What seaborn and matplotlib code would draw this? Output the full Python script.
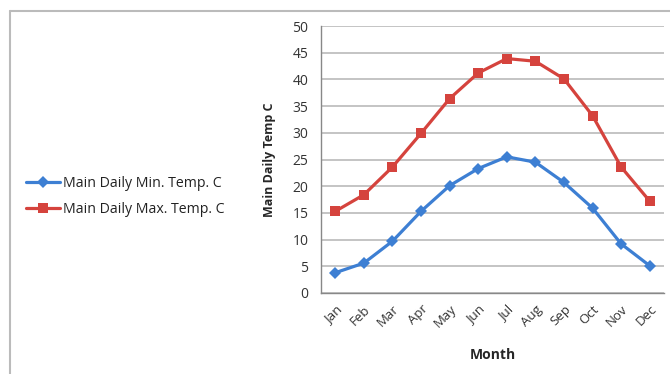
import matplotlib
matplotlib.use("Agg")
import matplotlib.pyplot as plt
import seaborn as sns
import pandas as pd
import numpy as np
from matplotlib.lines import Line2D

months = ["Jan", "Feb", "Mar", "Apr", "May", "Jun", "Jul", "Aug", "Sep", "Oct", "Nov", "Dec"]
min_temp = [3.8, 5.6, 9.7, 15.3, 20.1, 23.3, 25.5, 24.5, 20.7, 15.9, 9.2, 5.1]
max_temp = [15.3, 18.4, 23.6, 29.9, 36.4, 41.2, 43.9, 43.4, 40.1, 33.2, 23.6, 17.2]
series_names = ["Main Daily Min. Temp. C", "Main Daily Max. Temp. C"]
y_ticks = [0, 5, 10, 15, 20, 25, 30, 35, 40, 45, 50]

sns.set_style("white")
plt.rcParams["font.family"] = ["Open Sans", "DejaVu Sans"]

df = pd.DataFrame({
    "idx": list(range(len(months))) * 2,
    "temp": min_temp + max_temp,
    "series": [series_names[0]] * len(months) + [series_names[1]] * len(months),
})

fig = plt.figure(figsize=(6.7, 3.74), dpi=100)
ax = fig.add_axes([321 / 670, 81 / 374, 343 / 670, 267 / 374])

blue = "#3D7FD3"
red = "#D5433D"
palette = {series_names[0]: blue, series_names[1]: red}
markers = {series_names[0]: "D", series_names[1]: "s"}

sns.lineplot(data=df, x="idx", y="temp", hue="series", style="series",
             palette=palette, markers=markers, dashes=False, linewidth=2.3,
             markersize=7.5, markeredgewidth=0, ax=ax, legend=False, zorder=3)
# diamonds slightly smaller than squares
for ln in ax.lines:
    if ln.get_marker() == "D":
        ln.set_markersize(6)

ax.set_xlim(-0.5, len(months) - 0.5)
ax.set_ylim(0, 50)
ax.set_yticks(y_ticks)
ax.set_yticklabels([str(t) for t in y_ticks], fontsize=10, color="#333333")

# category boundaries carry tick marks, centres carry labels
ax.set_xticks(np.arange(-0.5, len(months), 1.0))
ax.set_xticklabels([])
ax.set_xticks(np.arange(len(months)), minor=True)
ax.set_xticklabels(months, minor=True, rotation=45, ha="right", va="top",
                   rotation_mode="anchor", fontsize=9.5, color="#333333")
ax.tick_params(axis="x", which="major", direction="out", length=4, width=1, color="#888888")
ax.tick_params(axis="x", which="minor", length=0, pad=7)
ax.tick_params(axis="y", direction="out", length=5, width=1, color="#888888", pad=4)

ax.grid(axis="y", color="#BFBFBF", linewidth=1.3)
ax.set_axisbelow(True)
for side in ["top", "right"]:
    ax.spines[side].set_visible(False)
for side in ["left", "bottom"]:
    ax.spines[side].set_color("#888888")
    ax.spines[side].set_linewidth(1.0)

ax.set_xlabel("Month", fontsize=10, fontweight="bold", labelpad=13)
ax.set_ylabel("Main Daily Temp C", fontsize=9, fontweight="bold", labelpad=12)

handles = [
    Line2D([0], [0], color=blue, lw=2.3, marker="D", markersize=6, markeredgewidth=0),
    Line2D([0], [0], color=red, lw=2.3, marker="s", markersize=7.5, markeredgewidth=0),
]
fig.legend(handles, series_names, loc="center left", bbox_to_anchor=(0.02, 0.4746),
           frameon=False, fontsize=10.2, handlelength=2.4, handletextpad=0.2,
           labelspacing=0.75, labelcolor="#222222")

# outer chart border (top and left edges)
fig.add_artist(Line2D([10 / 670, 1.0], [1 - 11 / 374, 1 - 11 / 374],
                      transform=fig.transFigure, color="#BBBBBB", lw=1.5))
fig.add_artist(Line2D([10 / 670, 10 / 670], [0.0, 1 - 11 / 374],
                      transform=fig.transFigure, color="#BBBBBB", lw=1.5))

fig.savefig("out.png", dpi=100)
